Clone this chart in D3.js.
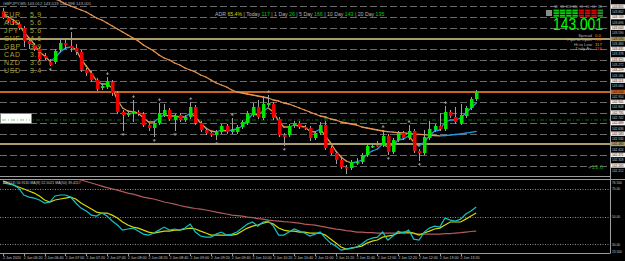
<!DOCTYPE html>
<html>
<head>
<meta charset="utf-8">
<script src="https://d3js.org/d3.v7.min.js"></script>
<style>
  body { margin: 0; background: #000; }
  svg { display: block; }
  text { font-family: "Liberation Sans", Arial, sans-serif; }
</style>
</head>
<body>
<script>
// ---- price bars, M5, one per 5 minutes ----
var opens = [143.81,143.74,143.71,143.68,143.64,143.51,143.47,143.43,143.36,143.30,
  143.30,143.42,143.49,143.46,143.44,143.40,143.22,143.19,143.12,143.04,
  143.05,143.10,142.99,142.80,142.77,142.79,142.80,142.78,142.67,142.64,
  142.69,142.76,142.82,142.72,142.77,142.72,142.75,142.85,142.69,142.62,
  142.59,142.57,142.60,142.66,142.60,142.60,142.65,142.69,142.77,142.85,
  142.74,142.87,142.88,142.73,142.57,142.57,142.66,142.69,142.65,142.64,
  142.54,142.59,142.67,142.44,142.39,142.32,142.25,142.24,142.29,142.30,
  142.37,142.45,142.47,142.47,142.56,142.40,142.52,142.59,142.54,142.61,
  142.41,142.39,142.54,142.62,142.66,142.63,142.80,142.75,142.69,142.76,
  142.84,142.93];
var highs = [143.84,143.76,143.73,143.70,143.66,143.53,143.49,143.45,143.39,143.33,
  143.43,143.54,143.54,143.60,143.48,143.42,143.24,143.21,143.14,143.08,
  143.15,143.12,143.01,142.82,142.81,142.92,142.82,142.80,142.69,142.71,
  142.89,142.88,142.84,142.78,142.79,142.77,142.90,142.87,142.71,142.64,
  142.61,142.62,142.68,142.68,142.74,142.67,142.72,142.81,142.89,142.92,
  142.96,142.97,142.90,142.75,142.59,142.68,142.71,142.71,142.67,142.66,
  142.61,142.70,142.71,142.46,142.41,142.34,142.27,142.32,142.34,142.39,
  142.48,142.49,142.51,142.62,142.58,142.54,142.61,142.61,142.67,142.63,
  142.43,142.62,142.71,142.68,142.79,142.86,142.82,142.85,142.88,142.86,
  142.95,143.02];
var lows = [143.73,143.69,143.67,143.62,143.45,143.43,143.41,143.31,143.32,143.26,
  143.28,143.40,143.43,143.40,143.37,143.20,143.16,143.10,143.01,143.02,
  143.03,142.96,142.78,142.61,142.75,142.70,142.76,142.65,142.61,142.55,
  142.67,142.75,142.71,142.61,142.70,142.70,142.73,142.67,142.60,142.57,
  142.55,142.52,142.58,142.58,142.58,142.58,142.63,142.67,142.75,142.73,
  142.72,142.85,142.72,142.55,142.46,142.55,142.64,142.63,142.62,142.51,
  142.52,142.57,142.42,142.37,142.28,142.23,142.18,142.22,142.27,142.28,
  142.35,142.44,142.45,142.45,142.37,142.38,142.50,142.52,142.52,142.39,
  142.31,142.37,142.52,142.60,142.61,142.61,142.74,142.68,142.67,142.74,
  142.82,142.91];
var closes = [143.74,143.71,143.69,143.64,143.51,143.48,143.43,143.33,143.34,143.27,
  143.41,143.49,143.47,143.44,143.40,143.22,143.19,143.12,143.03,143.06,
  143.11,142.99,142.80,142.77,142.79,142.81,142.78,142.67,142.64,142.69,
  142.79,142.82,142.73,142.76,142.72,142.75,142.85,142.69,142.62,142.59,
  142.57,142.60,142.66,142.60,142.62,142.65,142.70,142.79,142.85,142.75,
  142.88,142.89,142.74,142.57,142.55,142.66,142.69,142.65,142.64,142.54,
  142.59,142.67,142.44,142.39,142.32,142.25,142.24,142.30,142.30,142.37,
  142.46,142.46,142.46,142.56,142.40,142.52,142.59,142.54,142.61,142.41,
  142.39,142.55,142.63,142.66,142.63,142.80,142.76,142.70,142.77,142.84,
  142.93,143.00];

// moving averages (orange falling / blue rising)
var fastMA = [143.78,143.75,143.72,143.68,143.60,143.54,143.48,143.40,143.36,143.31,
  143.34,143.40,143.44,143.45,143.43,143.33,143.26,143.19,143.11,143.08,
  143.08,143.04,142.92,142.84,142.81,142.80,142.79,142.74,142.70,142.70,
  142.74,142.77,142.76,142.76,142.75,142.75,142.79,142.75,142.69,142.64,
  142.61,142.60,142.62,142.61,142.62,142.63,142.66,142.72,142.78,142.77,
  142.81,142.84,142.80,142.71,142.65,142.65,142.67,142.66,142.65,142.61,
  142.60,142.63,142.56,142.49,142.41,142.35,142.31,142.29,142.30,142.32,
  142.38,142.41,142.43,142.48,142.45,142.47,142.52,142.53,142.56,142.50,
  142.46,142.50,142.56,142.61,142.62,142.70,142.72,142.72,142.74,142.79,
  142.84,142.89];
var slowMA = [144.20,144.17,144.15,144.12,144.09,144.07,144.04,144.02,143.99,143.96,
  143.93,143.91,143.88,143.86,143.84,143.82,143.80,143.77,143.74,143.72,
  143.69,143.66,143.63,143.60,143.57,143.54,143.51,143.47,143.44,143.41,
  143.37,143.34,143.32,143.29,143.27,143.24,143.22,143.20,143.17,143.15,
  143.12,143.09,143.07,143.05,143.02,143.00,142.99,142.98,142.97,142.96,
  142.95,142.94,142.92,142.91,142.89,142.88,142.86,142.84,142.82,142.80,
  142.78,142.76,142.75,142.73,142.72,142.70,142.69,142.68,142.67,142.65,
  142.64,142.63,142.62,142.61,142.603,142.598,142.594,142.590,142.587,142.582,
  142.577,142.573,142.568,142.565,142.562,142.565,142.569,142.575,142.580,142.588,
  142.597,142.607];

// oscillator window
var rsi = [74.3,73.6,72.9,70.7,65.6,64.1,63.4,62.0,59.8,60.5,
  64.9,65.6,65.6,64.1,59.8,56.1,54.0,51.0,50.3,52.5,
  50.3,46.7,43.8,40.1,40.9,41.6,39.4,37.2,36.5,38.0,
  40.1,42.3,40.1,40.9,40.1,41.6,44.5,38.7,35.8,35.0,
  35.0,37.2,38.7,36.5,37.2,38.7,41.6,44.5,46.0,43.0,
  46.0,46.7,43.0,36.5,36.5,38.7,40.9,39.4,38.0,35.8,
  37.2,38.7,34.3,30.7,28.5,25.6,26.3,27.1,27.8,30.0,
  32.9,34.3,35.0,38.7,32.9,35.8,39.4,38.0,40.1,33.6,
  32.9,38.7,41.6,43.0,42.3,48.9,47.4,46.7,48.1,51.8,
  54.0,56.9];
var rsiFast = [75.8,74.3,72.9,71.4,70.0,68.5,67.0,64.9,62.0,60.5,
  62.0,62.7,63.4,64.1,62.7,59.8,57.6,55.4,53.2,52.5,
  52.5,51.0,48.9,46.0,43.8,42.3,41.6,40.1,38.7,38.0,
  38.7,39.4,39.4,40.1,40.1,40.9,41.6,40.9,39.4,38.0,
  36.5,36.5,36.5,36.5,36.5,37.2,39.4,41.6,43.0,43.8,
  45.2,46.0,44.5,41.6,40.1,39.4,39.4,38.7,38.7,38.0,
  38.0,38.0,36.5,33.6,30.7,27.8,26.3,27.1,27.8,28.5,
  30.7,32.1,32.9,35.0,35.8,36.5,38.0,38.7,38.7,38.0,
  36.5,38.0,39.4,40.9,41.6,43.8,46.0,46.0,46.0,48.1,
  50.3,52.5];
var rsiSlow = [92.5,91.4,90.3,89.2,88.1,87.0,86.0,84.9,83.8,82.7,
  81.6,80.5,79.4,78.7,77.6,76.5,75.4,74.3,73.2,72.1,
  71.0,70.0,69.2,68.1,67.0,66.3,65.2,64.1,63.4,62.7,
  61.6,60.5,59.8,59.0,58.0,57.2,56.5,55.8,55.4,54.7,
  54.0,53.2,52.5,51.8,51.0,50.7,50.3,49.6,49.2,48.5,
  48.1,47.4,47.0,46.7,46.3,46.0,45.6,45.2,44.5,44.1,
  43.8,43.0,42.3,41.6,40.9,40.5,39.8,39.4,38.7,38.7,
  38.3,38.3,38.0,38.0,38.0,38.0,38.0,38.0,38.0,37.6,
  37.2,37.2,37.2,37.2,37.2,37.6,37.6,38.0,38.3,38.7,
  39.1,39.4];
var rsiLevels = [70, 50, 30];
var rsiAxisLabels = [[76.5, "76.500"], [70, "70.00"], [50, "50.00"], [30, "30.00"], [23.5, "23.500"]];

// fractal arrows (bar indexes)
var fractalUp = [13, 20, 25, 30, 36, 44, 51, 62, 73, 78, 85];
var fractalDown = [9, 23, 29, 33, 41, 54, 66, 74, 80];

// price grid and horizontal objects
var gridPrices = [143.855, 143.749, 143.643, 143.537, 143.431, 143.325, 143.219, 143.113,
  143.007, 142.901, 142.795, 142.689, 142.583, 142.477, 142.371, 142.265];
var midPrices = [143.802, 143.696, 143.590, 143.484, 143.378, 143.272, 143.166, 143.060,
  142.954, 142.848, 142.742, 142.636, 142.530, 142.424, 142.318, 142.212];
var orangeLevel = 143.00;
var khakiLevels = [143.53, 142.48];
var greenLevel = 142.72;

var timeLabels = ["2 Jun 2020", "2 Jun 06:20", "2 Jun 06:40", "2 Jun 07:00", "2 Jun 07:20",
  "2 Jun 07:40", "2 Jun 08:00", "2 Jun 08:20", "2 Jun 08:40", "2 Jun 09:00", "2 Jun 09:20",
  "2 Jun 09:40", "2 Jun 10:00", "2 Jun 10:20", "2 Jun 10:40", "2 Jun 11:00", "2 Jun 11:20",
  "2 Jun 11:40", "2 Jun 12:00", "2 Jun 12:20", "2 Jun 12:40", "2 Jun 13:00", "2 Jun 13:20"];

// panel texts
var strengthNames = ["EUR", "AUD", "JPY", "CHF", "GBP", "CAD", "NZD", "USD"];
var strengthValues = ["5.9", "5.6", "5.6", "4.6", "3.9", "3.7", "3.6", "3.4"];
var adrNames = ["ADR", "Today", "1 Day", "5 Day", "10 Day", "20 Day"];
var adrValues = ["65.4%", "117", "26", "166", "143", "135"];
var infoNames = ["Spread", "Pips to Open", "Hi to Low", "Daily Av."];
var infoValues = ["0.0", "-78", "117", "118"];
var infoColors = ["#ff8c00", "#ff7a1a", "#ff9a00", "#ff3a3a"];
var meterFrames = ["M1", "M5", "M15", "M30", "H1", "H4", "D1", "W1"];
var meterUp = [1, 1, 1, 1, 0, 0, 0, 1];
var bidText = "143.001";

var W = 625, H = 261;
var svg = d3.select("body").append("svg").attr("width", W).attr("height", H);
svg.append("rect").attr("width", W).attr("height", H).attr("fill", "#000");

var x = d3.scaleLinear().domain([0, 91]).range([3, 476.2]);
var y = d3.scaleLinear().domain([142.16, 143.92]).range([176, 0]);
var yr = d3.scaleLinear().domain([23.5, 76.5]).range([253, 180]);
var idx = d3.range(opens.length);

var defs = svg.append("defs");
defs.append("clipPath").attr("id", "mainClip").append("rect")
  .attr("x", 0).attr("y", 0).attr("width", 610).attr("height", 176);
defs.append("clipPath").attr("id", "subClip").append("rect")
  .attr("x", 0).attr("y", 180).attr("width", 610).attr("height", 73);

var main = svg.append("g").attr("clip-path", "url(#mainClip)");

// grid
main.selectAll(".grid").data(gridPrices).enter().append("line")
  .attr("x1", 0).attr("x2", 610)
  .attr("y1", function(d) { return Math.round(y(d)) + 0.5; })
  .attr("y2", function(d) { return Math.round(y(d)) + 0.5; })
  .attr("stroke", "#6a6a6a").attr("stroke-dasharray", "7,3");

// horizontal objects
main.append("line").attr("x1", 0).attr("x2", 610)
  .attr("y1", y(greenLevel)).attr("y2", y(greenLevel))
  .attr("stroke", "#0a6e0a").attr("stroke-dasharray", "4,2,1,2");
main.selectAll(".khaki").data(khakiLevels).enter().append("line")
  .attr("x1", 0).attr("x2", 610)
  .attr("y1", function(d) { return y(d); }).attr("y2", function(d) { return y(d); })
  .attr("stroke", "#a89c6a").attr("stroke-width", 1.8);
main.append("line").attr("x1", 0).attr("x2", 610)
  .attr("y1", y(orangeLevel)).attr("y2", y(orangeLevel))
  .attr("stroke", "#c8641e").attr("stroke-width", 2);

// white label box on the left
main.append("rect").attr("x", 0.5).attr("y", 113.5).attr("width", 31).attr("height", 10)
  .attr("fill", "#fff").attr("stroke", "#888");
main.append("line").attr("x1", 2).attr("x2", 30).attr("y1", y(greenLevel)).attr("y2", y(greenLevel))
  .attr("stroke", "#7ccc7c").attr("stroke-dasharray", "4,2,1,2");

// MA drawn segment by segment, colour by slope
function slopeSegments(values) {
  var segs = [], prev = 0;
  for (var i = 0; i < values.length - 1; i++) {
    var dir = values[i + 1] > values[i] ? 1 : (values[i + 1] < values[i] ? 0 : prev);
    prev = dir;
    segs.push({ i: i, a: values[i], b: values[i + 1], up: dir });
  }
  return segs;
}
function drawSlope(g, values, sc, cls) {
  g.selectAll("." + cls).data(slopeSegments(values)).enter().append("line")
    .attr("class", cls)
    .attr("x1", function(d) { return x(d.i); }).attr("x2", function(d) { return x(d.i + 1); })
    .attr("y1", function(d) { return sc(d.a); }).attr("y2", function(d) { return sc(d.b); })
    .attr("stroke", function(d) { return d.up ? "#1e9be6" : "#e8964e"; })
    .attr("stroke-width", 1.3).attr("stroke-linecap", "round");
}
drawSlope(main, slowMA, y, "slow");
drawSlope(main, fastMA, y, "fast");

// candles
main.selectAll(".wick").data(idx).enter().append("line")
  .attr("x1", function(i) { return Math.round(x(i)) + 0.5; })
  .attr("x2", function(i) { return Math.round(x(i)) + 0.5; })
  .attr("y1", function(i) { return y(highs[i]); })
  .attr("y2", function(i) { return y(lows[i]); })
  .attr("stroke", "#a0a0a0").attr("stroke-width", 1);
main.selectAll(".body").data(idx).enter().append("rect")
  .attr("x", function(i) { return Math.round(x(i)) - 1; })
  .attr("width", 3.5)
  .attr("y", function(i) { return y(Math.max(opens[i], closes[i])); })
  .attr("height", function(i) { return Math.max(1.5, Math.abs(y(opens[i]) - y(closes[i]))); })
  .attr("fill", function(i) { return closes[i] >= opens[i] ? "#00e600" : "#f00000"; });

// fractals
main.selectAll(".fup").data(fractalUp).enter().append("path")
  .attr("d", function(i) {
    var cx = x(i) + 0.5, cy = y(highs[i]) - 3.5;
    return "M" + (cx - 1.3) + "," + (cy + 0.8) + "L" + cx + "," + (cy - 0.8) + "L" + (cx + 1.3) + "," + (cy + 0.8) + "M" + cx + "," + (cy - 0.8) + "V" + (cy + 1.6);
  })
  .attr("fill", "none").attr("stroke", "#a8a8a8").attr("stroke-width", 0.8);
main.selectAll(".fdn").data(fractalDown).enter().append("path")
  .attr("d", function(i) {
    var cx = x(i) + 0.5, cy = y(lows[i]) + 3.5;
    return "M" + (cx - 1.3) + "," + (cy - 0.8) + "L" + cx + "," + (cy + 0.8) + "L" + (cx + 1.3) + "," + (cy - 0.8) + "M" + cx + "," + (cy + 0.8) + "V" + (cy - 1.6);
  })
  .attr("fill", "none").attr("stroke", "#a8a8a8").attr("stroke-width", 0.8);

// currency strength list
var strength = svg.append("g").attr("font-size", 7).attr("fill", "#a8a032")
  .attr("letter-spacing", 0.7);
strength.selectAll(".cn").data(strengthNames).enter().append("text")
  .attr("x", 4).attr("y", function(d, i) { return 16.5 + i * 8.1; })
  .attr("font-family", "'Liberation Mono', monospace").text(function(d) { return d; });
strength.selectAll(".cv").data(strengthValues).enter().append("text")
  .attr("x", 30).attr("y", function(d, i) { return 16.5 + i * 8.1; })
  .attr("font-family", "'Liberation Mono', monospace").text(function(d) { return d; });

// chart title
svg.append("text").attr("x", 3).attr("y", 5).attr("font-size", 4.2).attr("fill", "#b4b4b4")
  .text("GBPJPY,M5  143.012 143.019 142.998 143.001");

// ADR line
var adr = svg.append("text").attr("x", 215).attr("y", 15.8).attr("font-size", 5.2);
adrNames.forEach(function(n, i) {
  adr.append("tspan").attr("fill", "#b4b4b4").text((i ? " |  " : "") + n + " ");
  adr.append("tspan").attr("fill", i ? "#00d000" : "#d2d200").text(adrValues[i]);
});

// strength meter top right
var meter = svg.append("g");
meter.append("rect").attr("x", 546).attr("y", 10).attr("width", 6).attr("height", 6).attr("fill", "#8a8a8a");
meter.selectAll(".mf").data(meterFrames).enter().append("text")
  .attr("x", function(d, i) { return 556 + i * 6.3; }).attr("y", 8.3)
  .attr("font-size", 2.6).attr("text-anchor", "middle").attr("fill", "#bbb")
  .text(function(d) { return d; });
meterFrames.forEach(function(f, i) {
  for (var r = 0; r < 3; r++) {
    meter.append("rect").attr("x", 553.5 + i * 6.3).attr("y", 9.6 + r * 2.6)
      .attr("width", 5.4).attr("height", 1.9)
      .attr("fill", meterUp[i] ? (i == 7 ? "#2f8f2f" : "#00d400") : "#e00000");
  }
});

// bid price and info rows
svg.append("text").attr("x", 603).attr("y", 30).attr("text-anchor", "end")
  .attr("font-size", 16.5).attr("fill", "#00ff00")
  .attr("textLength", 50).attr("lengthAdjust", "spacingAndGlyphs").text(bidText);
svg.selectAll(".in").data(infoNames).enter().append("text")
  .attr("x", 592).attr("y", function(d, i) { return 37 + i * 4.4; })
  .attr("text-anchor", "end").attr("font-size", 4.3).attr("fill", "#b4b4b4")
  .text(function(d) { return d; });
svg.selectAll(".iv").data(infoValues).enter().append("text")
  .attr("x", 595).attr("y", function(d, i) { return 37 + i * 4.4; })
  .attr("font-size", 4.3).attr("fill", function(d, i) { return infoColors[i]; })
  .text(function(d) { return d; });

svg.append("text").attr("x", 588).attr("y", 169).attr("font-size", 6).attr("fill", "#00b400").text("+13.6");

// right price scale
svg.append("line").attr("x1", 610.5).attr("x2", 610.5).attr("y1", 0).attr("y2", 253.5).attr("stroke", "#a0a0a0");
var marked = [[orangeLevel, "#c8641e"], [khakiLevels[0], "#a89c6a"], [khakiLevels[1], "#a89c6a"]];
function nearMarked(p) {
  return marked.some(function(m) { return Math.abs(y(m[0]) - y(p)) < 4.5; });
}
var axisR = svg.append("g");
axisR.selectAll(".pm").data(midPrices.filter(function(p) { return !nearMarked(p); })).enter().append("text")
  .attr("x", 612).attr("y", function(d) { return y(d) + 1.2; })
  .attr("font-size", 3.2).attr("fill", "#c8c8c8").text(function(d) { return d.toFixed(3); });
var boxPrices = gridPrices.filter(function(p) { return !nearMarked(p); });
axisR.selectAll(".pbox").data(boxPrices).enter().append("rect")
  .attr("x", 611).attr("y", function(d) { return y(d) - 2.2; })
  .attr("width", 15).attr("height", 4.4).attr("fill", "#f0f0f0");
axisR.selectAll(".pg").data(boxPrices).enter().append("text")
  .attr("x", 612).attr("y", function(d) { return y(d) + 1.2; })
  .attr("font-size", 3.2).attr("fill", "#222").text(function(d) { return d.toFixed(3); });
marked.forEach(function(p) {
  axisR.append("rect").attr("x", 611).attr("y", y(p[0]) - 2.2).attr("width", 15).attr("height", 4.4).attr("fill", p[1]);
  axisR.append("text").attr("x", 612).attr("y", y(p[0]) + 1.2).attr("font-size", 3.2).attr("fill", "#111").text(p[0].toFixed(3));
});

// window separators
svg.append("line").attr("x1", 0).attr("x2", 610).attr("y1", 176.5).attr("y2", 176.5).attr("stroke", "#9a9a9a");
svg.append("line").attr("x1", 0).attr("x2", 625).attr("y1", 179.5).attr("y2", 179.5).attr("stroke", "#9a9a9a");
svg.append("line").attr("x1", 0).attr("x2", 610).attr("y1", 253.5).attr("y2", 253.5).attr("stroke", "#9a9a9a");

// oscillator window
var sub = svg.append("g").attr("clip-path", "url(#subClip)");
sub.selectAll(".lvl").data(rsiLevels).enter().append("line")
  .attr("x1", 0).attr("x2", 610)
  .attr("y1", function(d) { return Math.round(yr(d)) + 0.5; })
  .attr("y2", function(d) { return Math.round(yr(d)) + 0.5; })
  .attr("stroke", "#8a8a8a").attr("stroke-dasharray", "1,1.5");
var oscLine = d3.line().x(function(d, i) { return x(i); }).y(function(d) { return yr(d); });
sub.append("path").datum(rsiSlow).attr("d", oscLine).attr("fill", "none").attr("stroke", "#b45a5a").attr("stroke-width", 1.2);
sub.append("path").datum(rsiFast).attr("d", oscLine).attr("fill", "none").attr("stroke", "#d8d800").attr("stroke-width", 1.2);
sub.append("path").datum(rsi).attr("d", oscLine).attr("fill", "none").attr("stroke", "#10c4c4").attr("stroke-width", 1.2);

svg.append("text").attr("x", 3).attr("y", 184).attr("font-size", 3.6).attr("fill", "#c8c8c8")
  .text("RSI(14) 56.9130    MA(8) 52.5021    MA(50) 39.4117");
svg.selectAll(".rl").data(rsiAxisLabels).enter().append("text")
  .attr("x", 612).attr("y", function(d) { return Math.min(252.5, Math.max(183.5, yr(d[0]) + 1.5)); })
  .attr("font-size", 3.2).attr("fill", "#c8c8c8").text(function(d) { return d[1]; });

// time axis
var tAxis = svg.append("g");
tAxis.selectAll(".tk").data(timeLabels).enter().append("line")
  .attr("x1", function(d, k) { return Math.round(x(k * 4)) + 0.5; })
  .attr("x2", function(d, k) { return Math.round(x(k * 4)) + 0.5; })
  .attr("y1", 253.5).attr("y2", 256).attr("stroke", "#9a9a9a");
tAxis.selectAll(".tl").data(timeLabels).enter().append("text")
  .attr("x", function(d, k) { return x(k * 4); }).attr("y", 259)
  .attr("font-size", 3.6).attr("fill", "#c8c8c8").text(function(d) { return d; });
</script>
</body>
</html>
